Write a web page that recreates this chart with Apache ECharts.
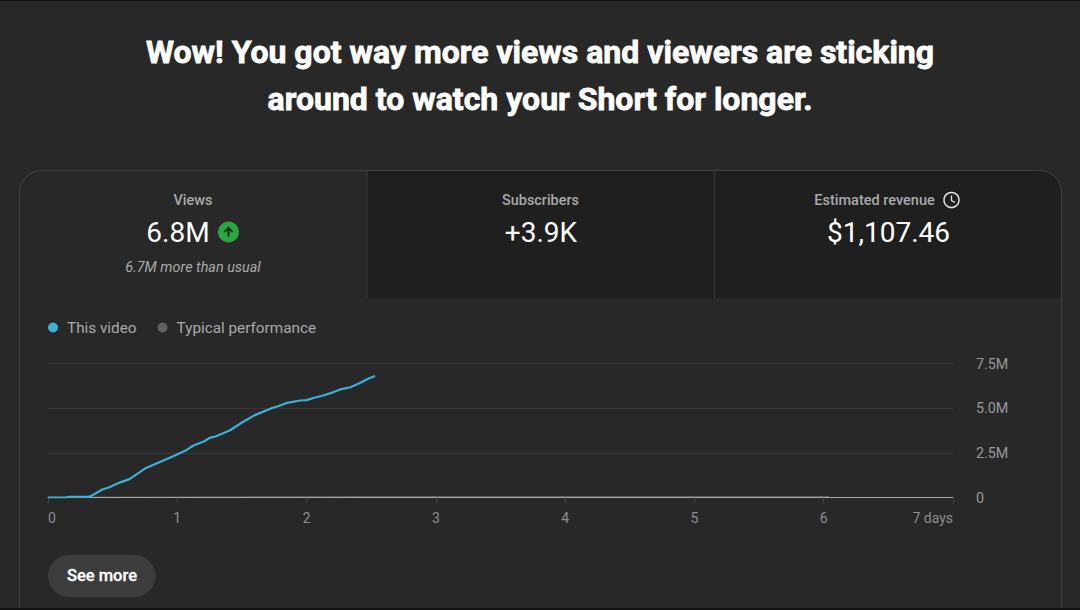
<!DOCTYPE html>
<html>
<head>
<meta charset="utf-8">
<style>
  html, body { margin: 0; padding: 0; background: #282828; }
  #chart { width: 1080px; height: 610px; }
</style>
<script src="https://cdn.jsdelivr.net/npm/echarts@6/dist/echarts.min.js"></script>
</head>
<body>
<div id="chart"></div>
<script>
// Cumulative views by days since publishing, as [day, views in millions]
const thisVideo = [
  [0, 0], [0.14, 0], [0.16, 0.03], [0.31, 0.03], [0.335, 0.09], [0.42, 0.45],
  [0.47, 0.56], [0.55, 0.82], [0.63, 1.03], [0.75, 1.62], [0.83, 1.87],
  [0.92, 2.15], [1.07, 2.65], [1.125, 2.91], [1.21, 3.15], [1.25, 3.34],
  [1.30, 3.43], [1.405, 3.75], [1.51, 4.24], [1.60, 4.61], [1.73, 5.0],
  [1.78, 5.11], [1.84, 5.28], [1.95, 5.43], [2.0, 5.45], [2.06, 5.58],
  [2.13, 5.71], [2.21, 5.9], [2.26, 6.05], [2.34, 6.17], [2.42, 6.44],
  [2.48, 6.66], [2.53, 6.8]
];
const typicalPerformance = [[0, 0], [1, 0.02], [2.5, 0.04], [6.04, 0.04]];
const yTicks = [0, 2.5, 5, 7.5];
const yTickLabels = ['0', '2.5M', '5.0M', '7.5M'];
const xTickLabels = ['0', '1', '2', '3', '4', '5', '6', '7 days'];
const headline = 'Wow! You got way more views and viewers are sticking\naround to watch your Short for longer.';
const metrics = [
  { title: 'Views', value: '6.8M', note: '6.7M more than usual' },
  { title: 'Subscribers', value: '+3.9K' },
  { title: 'Estimated revenue', value: '$1,107.46' }
];

const FONT = 'Roboto, sans-serif';
const PAGE = '#282828', TAB = '#1f1f1f', EDGE = '#414141', DIVIDER = '#393939';
const MUTED = '#aaaaaa', WHITE = '#ffffff';

function text(x, y, str, size, fill, extra) {
  return {
    type: 'text', x, y, silent: true,
    style: Object.assign({
      text: str, font: size + 'px ' + FONT, fill,
      align: 'center', verticalAlign: 'middle'
    }, extra || {})
  };
}
function rect(x, y, width, height, fill, r) {
  return { type: 'rect', silent: true, shape: { x, y, width, height, r: r || 0 }, style: { fill } };
}

const chrome = [
  // Inactive tabs, rounded at the card's top right corner
  rect(367, 171, 694, 127, TAB, [0, 21, 0, 0]),
  // Card outline, running off the bottom edge of the page
  {
    type: 'rect', silent: true,
    shape: { x: 19.5, y: 170.5, width: 1042, height: 470, r: [22, 22, 0, 0] },
    style: { fill: 'none', stroke: EDGE, lineWidth: 1 }
  },
  rect(366.5, 171, 1, 127, DIVIDER),
  rect(714, 171, 1, 127, DIVIDER),

  // Headline
  text(540, 75, headline, 32, WHITE, {
    font: 'bold 32px ' + FONT, lineHeight: 47, stroke: WHITE, lineWidth: 0.8
  }),

  // Views tab
  text(193, 200, metrics[0].title, 14.5, MUTED, { font: '500 14.5px ' + FONT }),
  text(178, 232, metrics[0].value, 28, WHITE),
  { type: 'circle', silent: true, shape: { cx: 228.5, cy: 232, r: 10.5 }, style: { fill: '#2ba640' } },
  {
    type: 'polyline', silent: true,
    shape: { points: [[224.5, 232], [228.5, 228], [232.5, 232]] },
    style: { fill: 'none', stroke: '#0f2f15', lineWidth: 2 }
  },
  rect(227.5, 228.5, 2, 8, '#0f2f15'),
  text(193, 267, metrics[0].note, 14.4, MUTED, { font: 'italic 14.4px ' + FONT }),

  // Subscribers tab
  text(540.5, 200, metrics[1].title, 14.4, MUTED, { font: '500 14.4px ' + FONT }),
  text(541, 232, metrics[1].value, 28, WHITE),

  // Revenue tab with its clock glyph
  text(874.5, 200, metrics[2].title, 14.5, MUTED, { font: '500 14.5px ' + FONT }),
  { type: 'circle', silent: true, shape: { cx: 951.5, cy: 200, r: 7.5 }, style: { fill: 'none', stroke: '#e0e0e0', lineWidth: 1.5 } },
  {
    type: 'polyline', silent: true,
    shape: { points: [[951.5, 195.5], [951.5, 200.5], [955, 202.5]] },
    style: { fill: 'none', stroke: '#e0e0e0', lineWidth: 1.3 }
  },
  text(888.5, 232, metrics[2].value, 28, WHITE),

  // Button under the chart
  rect(48, 555, 107.5, 42, '#3d3d3d', 21),
  text(102, 575, 'See more', 16.5, WHITE, { font: '500 16.5px ' + FONT, stroke: WHITE, lineWidth: 0.3 }),

  // Thin dark frame around the capture
  rect(0, 0, 1080, 1, '#111111'),
  rect(0, 608, 1080, 2, '#111111')
];

const chart = echarts.init(document.getElementById('chart'), null, { renderer: 'svg' });
chart.setOption({
  animation: false,
  backgroundColor: PAGE,
  graphic: { elements: chrome },
  legend: {
    left: 43, top: 315, itemGap: 21, itemWidth: 14, itemHeight: 10, icon: 'circle',
    selectedMode: false,
    textStyle: { color: MUTED, fontFamily: FONT, fontSize: 15.3, padding: [0, 0, 0, 2] },
    data: ['This video', 'Typical performance']
  },
  grid: { left: 48, right: 127, top: 363.5, height: 134, containLabel: false },
  xAxis: {
    type: 'value', min: 0, max: 7, interval: 1, z: 5,
    axisLine: { onZero: false, lineStyle: { color: '#a6a6a6', width: 1 } },
    axisTick: { show: true, length: 6, lineStyle: { color: '#444444' } },
    splitLine: { show: false },
    axisLabel: {
      color: '#8f8f8f', fontFamily: FONT, fontSize: 14, margin: 13, alignMinLabel: 'left', alignMaxLabel: 'right',
      formatter: (v) => xTickLabels[v]
    }
  },
  yAxis: {
    type: 'value', position: 'right', min: 0, max: 7.5, interval: 2.5,
    axisLine: { show: false }, axisTick: { show: false },
    splitLine: { lineStyle: { color: '#383838', width: 1 } },
    axisLabel: {
      color: '#9a9a9a', fontFamily: FONT, fontSize: 14.3, margin: 23, align: 'left',
      formatter: (v) => yTickLabels[yTicks.indexOf(v)]
    }
  },
  series: [
    {
      name: 'This video', type: 'line', data: thisVideo, showSymbol: false, z: 6,
      lineStyle: { color: '#3cb0d8', width: 2.2 }, itemStyle: { color: '#3cb0d8' }
    },
    {
      name: 'Typical performance', type: 'line', data: typicalPerformance, showSymbol: false, z: 2,
      lineStyle: { color: '#606060', width: 1.5 }, itemStyle: { color: '#606060' }
    }
  ]
});
</script>
</body>
</html>
